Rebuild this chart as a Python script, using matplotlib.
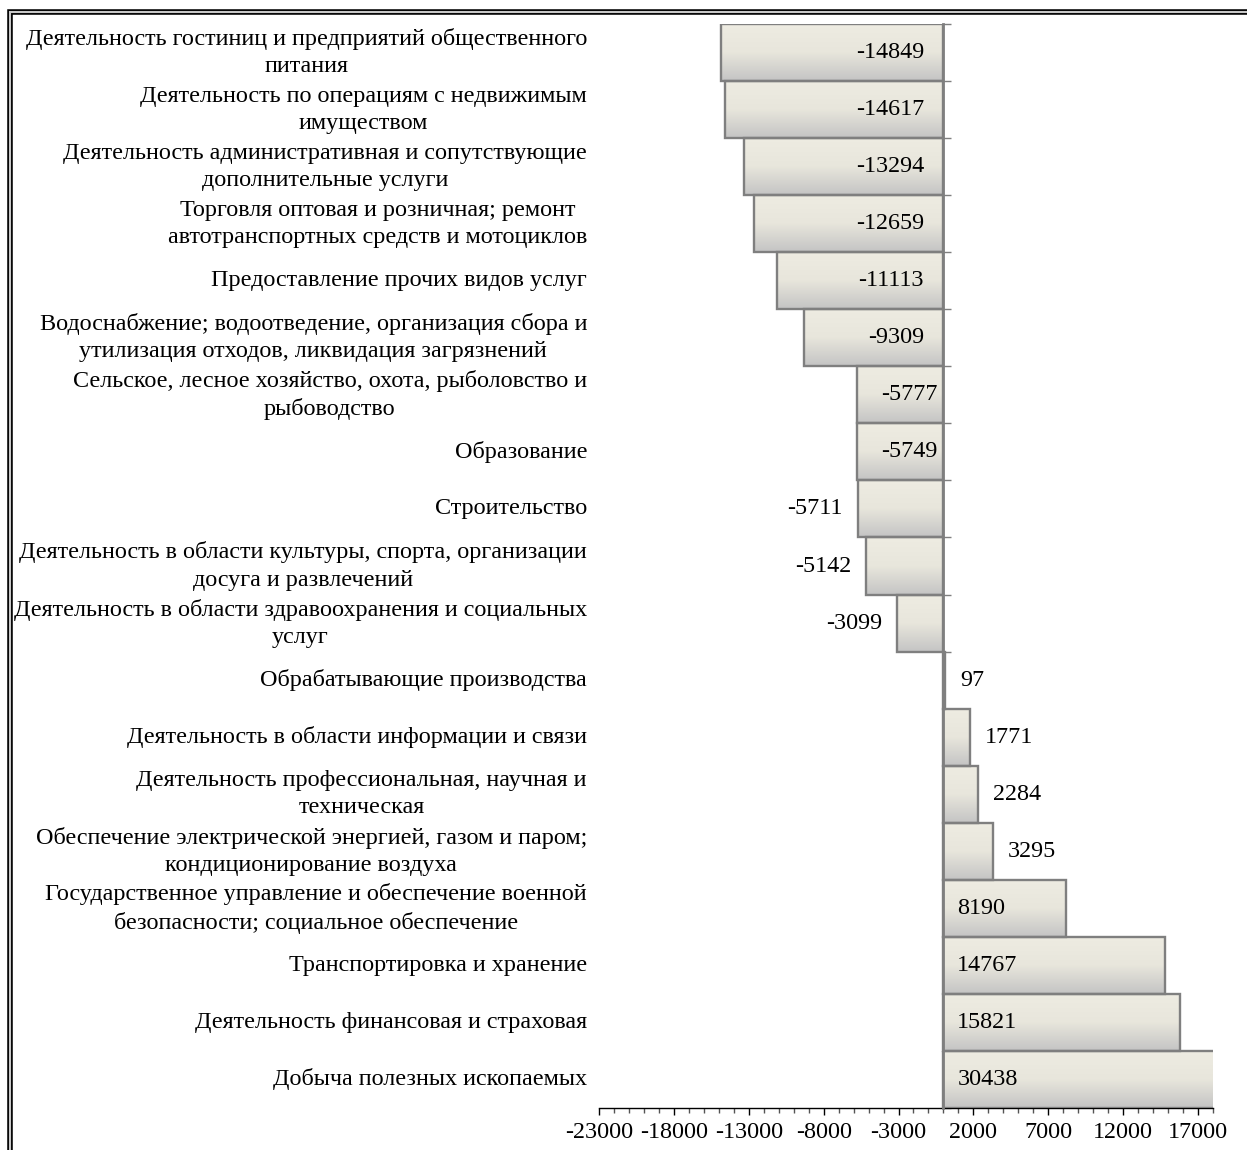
import numpy as np
import matplotlib
matplotlib.use("Agg")
import matplotlib.pyplot as plt
import matplotlib.transforms as mtransforms
from matplotlib.colors import LinearSegmentedColormap
from matplotlib.patches import Rectangle
from matplotlib.ticker import MultipleLocator, FixedLocator

categories = [
    "Деятельность гостиниц и предприятий общественного\nпитания",
    "Деятельность по операциям с недвижимым\nимуществом",
    "Деятельность административная и сопутствующие\nдополнительные услуги",
    "Торговля оптовая и розничная; ремонт\nавтотранспортных средств и мотоциклов",
    "Предоставление прочих видов услуг",
    "Водоснабжение; водоотведение, организация сбора и\nутилизация отходов, ликвидация загрязнений",
    "Сельское, лесное хозяйство, охота, рыболовство и\nрыбоводство",
    "Образование",
    "Строительство",
    "Деятельность в области культуры, спорта, организации\nдосуга и развлечений",
    "Деятельность в области здравоохранения и социальных\nуслуг",
    "Обрабатывающие производства",
    "Деятельность в области информации и связи",
    "Деятельность профессиональная, научная и\nтехническая",
    "Обеспечение электрической энергией, газом и паром;\nкондиционирование воздуха",
    "Государственное управление и обеспечение военной\nбезопасности; социальное обеспечение",
    "Транспортировка и хранение",
    "Деятельность финансовая и страховая",
    "Добыча полезных ископаемых",
]
values = [-14849, -14617, -13294, -12659, -11113, -9309, -5777, -5749, -5711,
          -5142, -3099, 97, 1771, 2284, 3295, 8190, 14767, 15821, 30438]

x_min, x_max = -23000, 18000
x_ticks = [-23000, -18000, -13000, -8000, -3000, 2000, 7000, 12000, 17000]

plt.rcParams['font.family'] = ['Liberation Serif', 'DejaVu Serif']
fs = 17.4

fig = plt.figure(figsize=(12.47, 11.5), dpi=100)
ax = fig.add_axes([599/1247, 42/1150, 614/1247, 1084/1150])

n = len(values)
y = np.arange(n)
cmap = LinearSegmentedColormap.from_list("g", ["#eeece2", "#e8e6dc", "#c4c4c4"])
grad = np.linspace(0, 1, 200).reshape(-1, 1)

bars = ax.barh(y, values, height=1.0, color='none', edgecolor='#7f7f7f',
               linewidth=1.7, zorder=3)
for b, v, yi in zip(bars, values, y):
    im = ax.imshow(grad, extent=[min(0, v), min(max(0, v), x_max), yi + 0.5, yi - 0.5],
                   aspect='auto', cmap=cmap, origin='upper', zorder=2,
                   interpolation='bilinear')
    im.set_clip_path(b)

ax.set_xlim(x_min, x_max)
ax.set_ylim(n - 0.5, -0.5)

# value labels
for v, yi in zip(values, y):
    if v >= 5000:
        off, ha = 10, 'left'
    elif v > 0:
        off, ha = 11, 'left'
    elif v <= -9000:
        off, ha = -14, 'right'
    elif v <= -5730:
        off, ha = -4.5, 'right'
    else:
        off, ha = -11, 'right'
    xref = 0 if (v >= 5000 or v <= -5730) else v
    ax.annotate(str(v), (xref, yi), xytext=(off, 0), textcoords='offset points',
                ha=ha, va='center', fontsize=fs, zorder=5)

# category labels
trans = mtransforms.blended_transform_factory(ax.transAxes, ax.transData)
for lab, yi in zip(categories, y):
    ax.text(-12/614, yi, lab, transform=trans, ha='right', va='center',
            multialignment='center', fontsize=fs, linespacing=1.38)

# axes styling
for s in ['top', 'right']:
    ax.spines[s].set_visible(False)
ax.spines['left'].set_position(('data', 0))
ax.spines['left'].set_color('#7f7f7f')
ax.spines['left'].set_linewidth(2)
ax.spines['left'].set_zorder(4)
ax.spines['bottom'].set_color('black')
ax.spines['bottom'].set_linewidth(1)
ax.yaxis.set_major_locator(FixedLocator(np.arange(n + 1) - 0.5))
ax.yaxis.set_ticklabels([])
ax.tick_params(axis='y', direction='in', length=5.5, color='#7f7f7f', width=1)

ax.xaxis.set_major_locator(FixedLocator(x_ticks))
ax.xaxis.set_minor_locator(MultipleLocator(1000))
ax.set_xticklabels([str(t) for t in x_ticks], fontsize=fs)
ax.tick_params(axis='x', which='major', length=5, width=1, color='black', pad=5)
ax.tick_params(axis='x', which='minor', length=3.5, width=1, color='#555555')

# double frame around chart
fig.patches.append(Rectangle((10/1247, -0.1), 1.2, (1150 - 12) / 1150 + 0.1,
                             transform=fig.transFigure, fill=False,
                             edgecolor='black', linewidth=4))
fig.patches.append(Rectangle((10/1247, -0.1), 1.2, (1150 - 12) / 1150 + 0.1,
                             transform=fig.transFigure, fill=False,
                             edgecolor='#c8c8c8', linewidth=1.5))

fig.savefig("out.png", dpi=100)
